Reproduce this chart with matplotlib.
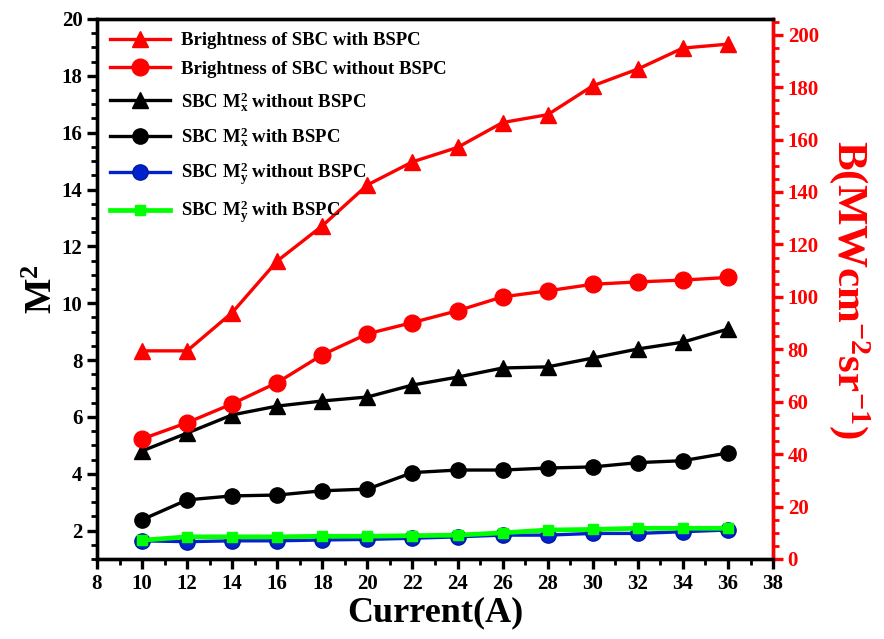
import matplotlib
matplotlib.use('Agg')
import matplotlib.pyplot as plt
from matplotlib.ticker import MultipleLocator

plt.rcParams['font.family'] = ['Liberation Serif', 'DejaVu Serif']
plt.rcParams['font.weight'] = 'bold'
plt.rcParams['mathtext.fontset'] = 'custom'
plt.rcParams['mathtext.rm'] = 'Liberation Serif:bold'
plt.rcParams['mathtext.it'] = 'Liberation Serif:bold:italic'
plt.rcParams['mathtext.bf'] = 'Liberation Serif:bold'

current = [10, 12, 14, 16, 18, 20, 22, 24, 26, 28, 30, 32, 34, 36]

# brightness (right axis)
b_with = [79.4, 79.4, 94.0, 113.7, 127.1, 142.7, 151.5, 157.0, 166.5, 169.5, 180.5, 186.9, 194.9, 196.4]
b_without = [45.8, 52.0, 59.2, 67.3, 77.9, 85.9, 90.2, 94.7, 100.0, 102.3, 104.8, 105.7, 106.4, 107.4]

# M^2 (left axis)
mx_without = [4.8, 5.43, 6.07, 6.38, 6.56, 6.70, 7.12, 7.40, 7.72, 7.76, 8.07, 8.39, 8.63, 9.09]
mx_with = [2.38, 3.08, 3.22, 3.25, 3.40, 3.46, 4.04, 4.13, 4.13, 4.20, 4.24, 4.39, 4.46, 4.73]
my_without = [1.64, 1.61, 1.64, 1.64, 1.67, 1.69, 1.73, 1.78, 1.84, 1.84, 1.90, 1.90, 1.96, 2.02]
my_with = [1.66, 1.78, 1.78, 1.78, 1.80, 1.80, 1.82, 1.84, 1.92, 2.02, 2.04, 2.08, 2.08, 2.08]

fig = plt.figure(figsize=(8.84, 6.39), dpi=100)
ax = fig.add_axes([0.1097, 0.1252, 0.7648, 0.8451])
ax2 = ax.twinx()

lw = 2.4
l3, = ax.plot(current, mx_without, '-^', color='black', lw=lw, ms=11, label=r'SBC M$_\mathrm{x}^\mathrm{2}$ without BSPC')
l4, = ax.plot(current, mx_with, '-o', color='black', lw=lw, ms=11, label=r'SBC M$_\mathrm{x}^\mathrm{2}$ with BSPC')
l5, = ax.plot(current, my_without, '-o', color='#0022CC', mec='#0018A0', lw=lw, ms=11, label=r'SBC M$_\mathrm{y}^\mathrm{2}$ without BSPC')
l6, = ax.plot(current, my_with, '-s', color='#00FF00', lw=lw + 1, ms=7, label=r'SBC M$_\mathrm{y}^\mathrm{2}$ with BSPC')

l1, = ax2.plot(current, b_with, '-^', color='red', lw=lw, ms=12, label='Brightness of SBC with BSPC')
l2, = ax2.plot(current, b_without, '-o', color='red', lw=lw, ms=12, label='Brightness of SBC without BSPC')

ax.set_xlim(8, 38)
ax.set_ylim(1, 20)
ax2.set_ylim(0, 206)

ax.xaxis.set_major_locator(MultipleLocator(2))
ax.xaxis.set_minor_locator(MultipleLocator(1))
ax.yaxis.set_major_locator(MultipleLocator(2))
ax.yaxis.set_minor_locator(MultipleLocator(0.5))
ax2.yaxis.set_major_locator(MultipleLocator(20))
ax2.yaxis.set_minor_locator(MultipleLocator(5))

for a in (ax, ax2):
    for s in a.spines.values():
        s.set_linewidth(2.4)
ax2.spines['right'].set_color('red')

ax.tick_params(axis='both', which='major', direction='out', length=7, width=2.4, labelsize=15)
ax.tick_params(axis='both', which='minor', direction='out', length=4, width=2)
ax2.tick_params(axis='y', which='major', direction='out', length=7, width=2.4, labelsize=15,
                colors='red')
ax2.tick_params(axis='y', which='minor', direction='out', length=4, width=2, colors='red')

ax.set_xlabel('Current(A)', fontsize=26, fontweight='bold', labelpad=2)
ax.set_ylabel(r'M$^\mathrm{2}$', fontsize=27, fontweight='bold', labelpad=1)
ax2.set_ylabel(r'B(MWcm$^{-2}$sr$^{-1}$)', fontsize=31, fontweight='bold', color='red',
               rotation=270, labelpad=38)

ax2.legend(handles=[l1, l2, l3, l4, l5, l6], loc='upper left', frameon=False,
           prop={'size': 13.5, 'weight': 'bold'}, handlelength=3.2, labelspacing=0.62,
           borderaxespad=0.3, handletextpad=0.6)

fig.savefig('out.png', dpi=100)
